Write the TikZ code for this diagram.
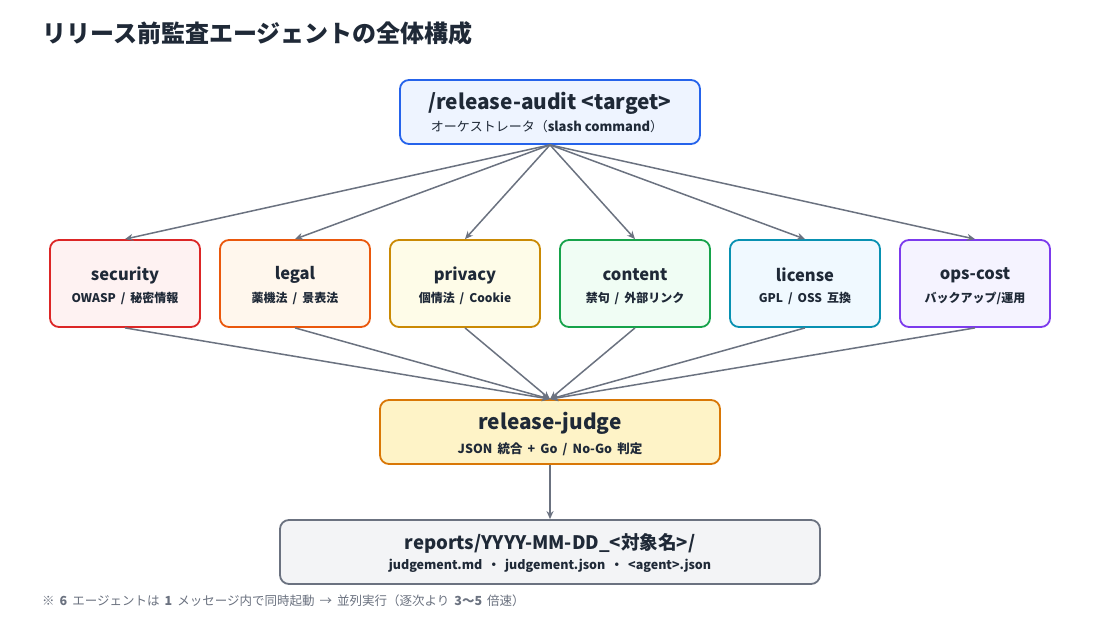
\documentclass[tikz,border=0pt]{standalone}
\usepackage{fontspec}
\setmainfont{Noto Sans CJK JP}
\newfontfamily\subf{Noto Sans CJK JP}[WordSpace=1.8]
\usetikzlibrary{arrows.meta}
\definecolor{ink}{HTML}{1F2937}
\definecolor{arr}{HTML}{6B7280}
\definecolor{foot}{HTML}{6B7280}
\definecolor{topB}{HTML}{2563EB}\definecolor{topF}{HTML}{EEF4FF}
\definecolor{secB}{HTML}{DC2626}\definecolor{secF}{HTML}{FEF2F2}
\definecolor{legB}{HTML}{EA580C}\definecolor{legF}{HTML}{FFF7ED}
\definecolor{priB}{HTML}{CA8A04}\definecolor{priF}{HTML}{FEFCE8}
\definecolor{conB}{HTML}{16A34A}\definecolor{conF}{HTML}{F0FDF4}
\definecolor{licB}{HTML}{0891B2}\definecolor{licF}{HTML}{F0F9FF}
\definecolor{opsB}{HTML}{7C3AED}\definecolor{opsF}{HTML}{F5F3FF}
\definecolor{judB}{HTML}{D97706}\definecolor{judF}{HTML}{FEF3C7}
\definecolor{repB}{HTML}{6B7280}\definecolor{repF}{HTML}{F3F4F6}
\tikzset{
  box/.style={draw=#1B, fill=#1F, line width=1.8pt, rounded corners=9pt, inner sep=0pt},
  agent/.style={box=#1, minimum width=150pt, minimum height=87pt},
  arrowline/.style={draw=arr, line width=1.5pt, -{Stealth[length=8pt,width=7pt]}},
  txt/.style={text=ink, inner sep=0pt, anchor=center},
  agttl/.style={txt, font=\fontsize{16.5}{20}\selectfont\bfseries},
  agsub/.style={txt, font=\subf\fontsize{12}{14}\selectfont\bfseries},
  bigttl/.style={txt, font=\fontsize{20.8}{24}\selectfont\bfseries},
  bigsub/.style={txt, font=\subf\fontsize{12.5}{14}\selectfont\bfseries},
}
\begin{document}
\begin{tikzpicture}[x=1pt,y=-1pt]
\useasboundingbox[fill=white] (0,0) rectangle (1100,620);
\node[anchor=west, text=ink, inner sep=0pt, font=\fontsize{24}{28}\selectfont\bfseries] (title) at (42,33) {リリース前監査エージェントの全体構成};

\node[box=top, minimum width=300pt, minimum height=64pt] (top) at (550,112) {};
\node[bigttl] (topT) at (550,103) {/release-audit <target>};
\node[txt, font=\fontsize{13}{15}\selectfont] (topS) at (547,127) {オーケストレータ（\textbf{slash command}）};

\foreach \n/\x/\t/\s in {sec/125/security/{OWASP / 秘密情報}, leg/295/legal/{薬機法 / 景表法}, pri/465/privacy/{個情法 / Cookie}, con/635/content/{禁句 / 外部リンク}, lic/805/license/{GPL / OSS 互換}, ops/975/ops-cost/{バックアップ/運用}}{
  \node[agent=\n] (\n) at (\x,283.5) {};
  \node[agttl] (\n T) at (\x,275) {\t};
  \node[agsub] (\n S) at (\x,298) {\s};
}

\node[box=jud, minimum width=340pt, minimum height=64pt] (jud) at (550,432) {};
\node[bigttl] (judT) at (550,423) {release-judge};
\node[bigsub] (judS) at (550,449) {JSON 統合 + Go / No-Go 判定};

\node[box=rep, minimum width=540pt, minimum height=64pt] (rep) at (550,552) {};
\node[txt, font=\fontsize{18.6}{22}\selectfont\bfseries] (repT) at (550,543) {reports/YYYY-MM-DD\_<対象名>/};
\node[bigsub] (repS) at (550,566) {judgement.md ・ judgement.json ・ <agent>.json};

\foreach \n in {sec,leg,pri,con,lic,ops}{
  \draw[arrowline] (top.south) -- (\n.north);
  \draw[arrowline] (\n.south) -- (jud.north);
}
\draw[arrowline] (jud.south) -- (rep.north);

\node[anchor=west, text=foot, inner sep=0pt, font=\subf\fontsize{12.5}{14}\selectfont] (note) at (42,601)
  {※ \textbf{6} エージェントは \textbf{1} メッセージ内で同時起動 → 並列実行（逐次より \textbf{3〜5} 倍速）};
\end{tikzpicture}
\end{document}
